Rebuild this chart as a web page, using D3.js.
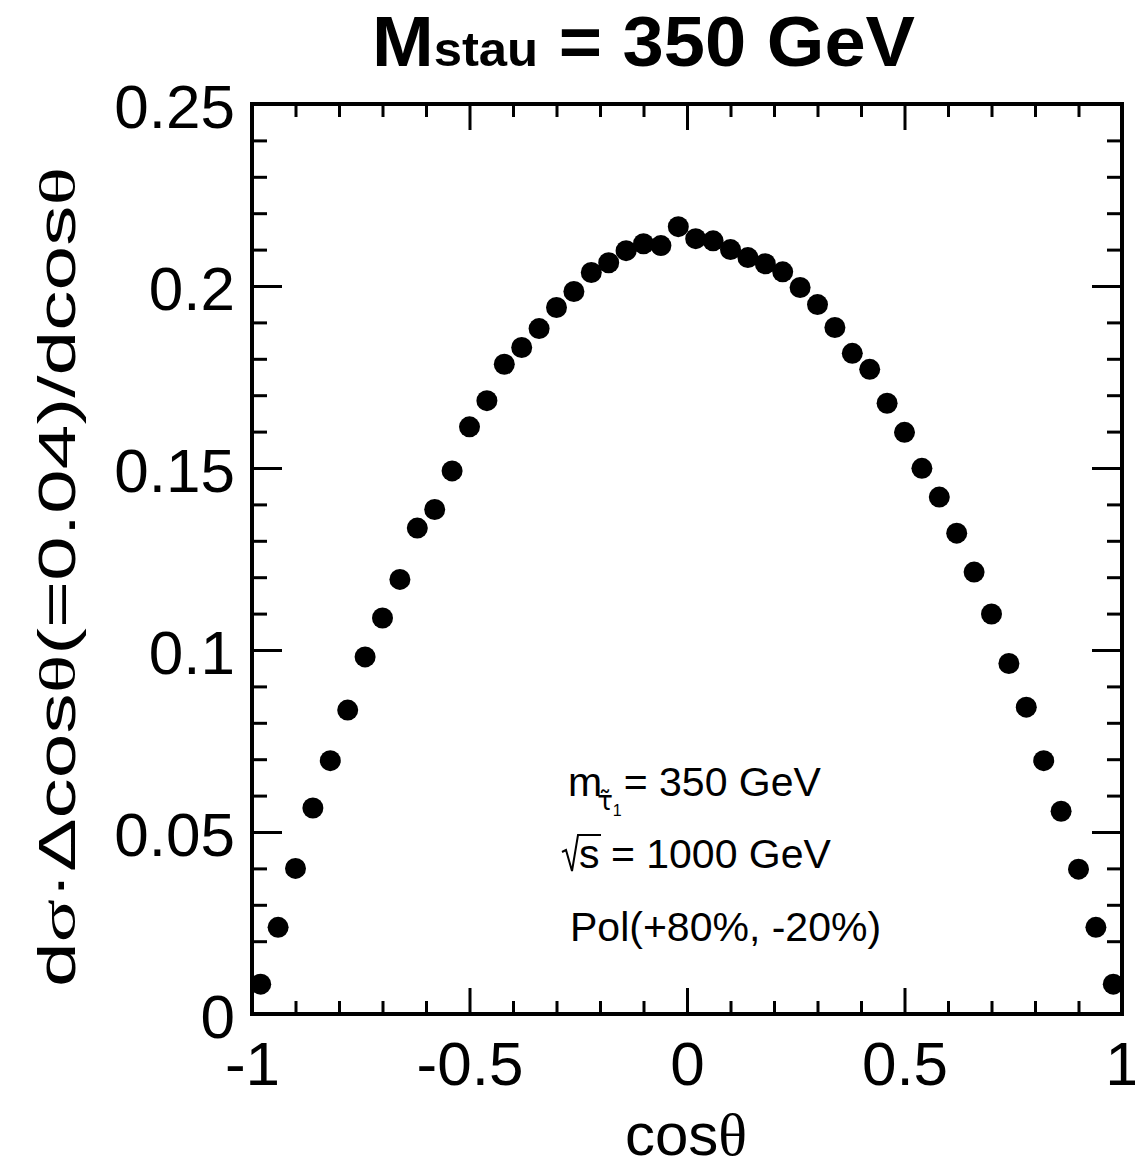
<!DOCTYPE html>
<html><head><meta charset="utf-8">
<script src="https://cdn.jsdelivr.net/npm/d3@7"></script>
<style>body{margin:0;background:#fff} svg{display:block}</style>
</head><body>
<svg id="chart" width="1135" height="1165"></svg>
<script>
// ---- data ----
const cosTheta = [-0.98,-0.94,-0.90,-0.86,-0.82,-0.78,-0.74,-0.70,-0.66,-0.62,
                  -0.58,-0.54,-0.50,-0.46,-0.42,-0.38,-0.34,-0.30,-0.26,-0.22,
                  -0.18,-0.14,-0.10,-0.06,-0.02,0.02,0.06,0.10,0.14,0.18,
                  0.22,0.26,0.30,0.34,0.38,0.42,0.46,0.50,0.54,0.58,
                  0.62,0.66,0.70,0.74,0.78,0.82,0.86,0.90,0.94,0.98];
const dSigma = [0.0082,0.0238,0.0400,0.0566,0.0696,0.0835,0.0981,0.1088,0.1194,0.1335,
                0.1386,0.1492,0.1613,0.1685,0.1785,0.1831,0.1883,0.1941,0.1985,0.2037,
                0.2064,0.2097,0.2116,0.2111,0.2163,0.2130,0.2124,0.2100,0.2078,0.2061,
                0.2039,0.1996,0.1949,0.1886,0.1815,0.1771,0.1678,0.1598,0.1499,0.1420,
                0.1321,0.1214,0.1099,0.0963,0.0843,0.0696,0.0557,0.0398,0.0238,0.0082];
const xTickValues = [-1,-0.5,0,0.5,1];
const xTickLabels = ["-1","-0.5","0","0.5","1"];
const yTickValues = [0,0.05,0.1,0.15,0.2,0.25];
const yTickLabels = ["0","0.05","0.1","0.15","0.2","0.25"];
const xMinorStep = 0.1, yMinorStep = 0.01;
const annotLines = ["= 350 GeV", "s = 1000 GeV", "Pol(+80%, -20%)"];

// ---- layout ----
const FONT = "'Liberation Sans', Arial, Helvetica, sans-serif";
const SERIF = "'Liberation Serif', 'Times New Roman', serif";
const L = 252, R = 1122, T = 104, B = 1014;
const svg = d3.select("#chart");
const x = d3.scaleLinear().domain([-1, 1]).range([L, R]);
const y = d3.scaleLinear().domain([0, 0.25]).range([B, T]);

const near = (a, b) => Math.abs(a - b) < 1e-9;
const xMinor = d3.range(-1, 1 + 1e-9, xMinorStep).filter(v => !xTickValues.some(t => near(t, v)));
const yMinor = d3.range(0, 0.25 + 1e-9, yMinorStep).filter(v => !yTickValues.some(t => near(t, v)));

function styleAxis(g) {
  g.attr("font-family", FONT).attr("font-size", 62);
  g.select(".domain").remove();
  g.selectAll(".tick line").attr("stroke", "#000").attr("stroke-width", 3);
  g.selectAll(".tick text").attr("fill", "#000");
}

// bottom major with labels
svg.append("g").attr("transform", `translate(0,${B})`)
  .call(d3.axisBottom(x).tickValues(xTickValues).tickSize(-26).tickFormat((d, i) => xTickLabels[i]))
  .call(styleAxis)
  .selectAll(".tick text").attr("y", 71).attr("dy", 0);
svg.append("g").attr("transform", `translate(0,${B})`)
  .call(d3.axisBottom(x).tickValues(xMinor).tickSize(-13).tickFormat(""))
  .call(styleAxis);
// top
svg.append("g").attr("transform", `translate(0,${T})`)
  .call(d3.axisTop(x).tickValues(xTickValues).tickSize(-26).tickFormat(""))
  .call(styleAxis);
svg.append("g").attr("transform", `translate(0,${T})`)
  .call(d3.axisTop(x).tickValues(xMinor).tickSize(-13).tickFormat(""))
  .call(styleAxis);
// left major with labels
svg.append("g").attr("transform", `translate(${L},0)`)
  .call(d3.axisLeft(y).tickValues(yTickValues).tickSize(-30).tickFormat((d, i) => yTickLabels[i]))
  .call(styleAxis)
  .selectAll(".tick text").attr("x", -17).attr("dy", "0.38em");
svg.append("g").attr("transform", `translate(${L},0)`)
  .call(d3.axisLeft(y).tickValues(yMinor).tickSize(-15).tickFormat(""))
  .call(styleAxis);
// right
svg.append("g").attr("transform", `translate(${R},0)`)
  .call(d3.axisRight(y).tickValues(yTickValues).tickSize(-30).tickFormat(""))
  .call(styleAxis);
svg.append("g").attr("transform", `translate(${R},0)`)
  .call(d3.axisRight(y).tickValues(yMinor).tickSize(-15).tickFormat(""))
  .call(styleAxis);

// frame
svg.append("rect").attr("x", L).attr("y", T).attr("width", R - L).attr("height", B - T)
  .attr("fill", "none").attr("stroke", "#000").attr("stroke-width", 4);

// points
svg.append("g").selectAll("circle").data(cosTheta).join("circle")
  .attr("cx", d => x(d)).attr("cy", (d, i) => y(dSigma[i])).attr("r", 10.5).attr("fill", "#000");

// title
const title = svg.append("text").attr("x", 372).attr("y", 66)
  .attr("font-family", FONT).attr("font-weight", "bold").attr("font-size", 70).attr("fill", "#000");
title.append("tspan").text("M");
title.append("tspan").attr("font-size", 48).text("stau");
title.append("tspan").text(" = 350 GeV");
title.attr("textLength", 543).attr("lengthAdjust", "spacingAndGlyphs");

// x title
const xt = svg.append("text").attr("x", 686).attr("y", 1155).attr("text-anchor", "middle")
  .attr("font-family", FONT).attr("font-size", 60).attr("fill", "#000");
xt.append("tspan").text("cos");
xt.append("tspan").attr("font-family", SERIF).text("θ");

// y title
const yt = svg.append("text").attr("transform", "translate(75,577) rotate(-90)")
  .attr("text-anchor", "middle").attr("font-family", FONT).attr("font-size", 51).attr("fill", "#000");
yt.append("tspan").text("d");
yt.append("tspan").attr("font-family", SERIF).text("σ");
yt.append("tspan").text("·Δcos");
yt.append("tspan").attr("font-family", SERIF).text("θ");
yt.append("tspan").text("(=0.04)/dcos");
yt.append("tspan").attr("font-family", SERIF).text("θ");
yt.attr("textLength", 820).attr("lengthAdjust", "spacingAndGlyphs");

// annotation
const ann = svg.append("g").attr("font-family", FONT).attr("fill", "#000");
const l1 = ann.append("text").attr("x", 568).attr("y", 796).attr("font-size", 41);
l1.append("tspan").text("m");
l1.append("tspan").attr("font-family", "'DejaVu Sans', sans-serif").attr("font-size", 26)
  .attr("dx", -5).attr("dy", 14).text("τ\u0303");
l1.append("tspan").attr("font-size", 16).attr("dy", 6).text("1");
l1.append("tspan").attr("dx", 2).attr("dy", -20).text(annotLines[0]);
// sqrt
ann.append("path").attr("d", "M562,852 L566,850 L572,871 L578,835 L601,835")
  .attr("fill", "none").attr("stroke", "#000").attr("stroke-width", 2);
ann.append("text").attr("x", 579).attr("y", 868).attr("font-size", 41).text(annotLines[1]);
ann.append("text").attr("x", 570).attr("y", 941).attr("font-size", 41).text(annotLines[2]);
</script>
</body></html>
